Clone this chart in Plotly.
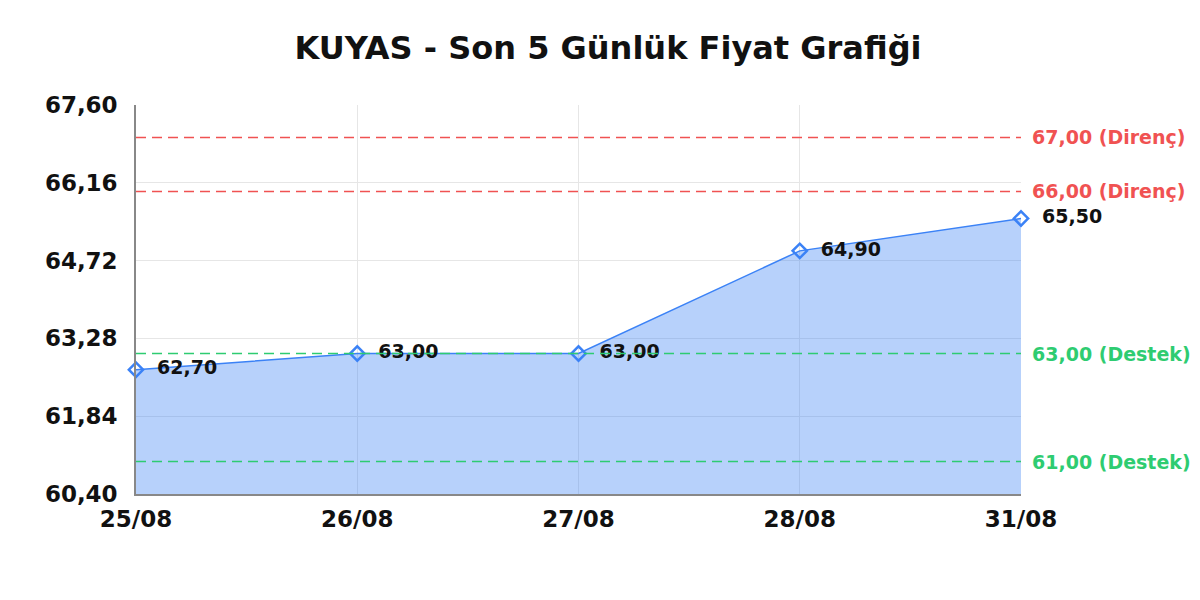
import plotly.graph_objects as go

# data
dates = ["25/08", "26/08", "27/08", "28/08", "31/08"]
prices = [62.70, 63.00, 63.00, 64.90, 65.50]
resistance = [67.00, 66.00]
support = [63.00, 61.00]
y_ticks = [60.40, 61.84, 63.28, 64.72, 66.16, 67.60]

FONT = "DejaVu Sans"
RED = "#f05252"
GREEN = "#2ecc71"
BLUE = "#3b82f6"

fig = go.Figure()

fig.add_trace(go.Scatter(
    x=dates, y=prices,
    mode="lines+markers+text",
    fill="tozeroy",
    fillcolor="rgba(66,133,244,0.38)",
    line=dict(color=BLUE, width=1.5),
    marker=dict(symbol="diamond-open", size=11, color=BLUE, line=dict(width=2.5, color=BLUE)),
    text=prices,
    texttemplate="  %{y:.2f}",
    textposition="middle right",
    textfont=dict(family=FONT, size=19, color="#111", weight="bold"),
    cliponaxis=False,
    showlegend=False,
))

shapes = []
annotations = []
for val, col, word in [(v, RED, "Direnç") for v in resistance] + [(v, GREEN, "Destek") for v in support]:
    shapes.append(dict(type="line", xref="paper", x0=0, x1=1, yref="y", y0=val, y1=val,
                       line=dict(color=col, width=1.5, dash="10px,6px"), layer="above"))
    annotations.append(dict(xref="paper", x=1, yref="y", y=val, xanchor="left", xshift=9,
                            text=f"{val:.2f}".replace(".", ",") + f" ({word})", showarrow=False,
                            font=dict(family=FONT, size=19, color=col, weight="bold")))

fig.update_layout(
    width=1200, height=600,
    separators=",.",
    paper_bgcolor="white", plot_bgcolor="white",
    margin=dict(l=128, r=187, t=97, b=114),
    title=dict(text="KUYAS - Son 5 Günlük Fiyat Grafiği", x=0.5, xanchor="center",
               y=1 - 40 / 600, yanchor="middle",
               font=dict(family=FONT, size=32, color="#111", weight="bold")),
    font=dict(family=FONT, color="#111"),
    shapes=shapes,
    annotations=annotations,
)

fig.update_xaxes(
    type="category", range=[0, len(dates) - 1],
    showgrid=True, gridcolor="#e6e6e6",
    showline=True, linecolor="#888", linewidth=1.5,
    tickfont=dict(family=FONT, size=23, color="#111", weight="bold"),
    ticks="", ticklabelstandoff=4,
)
fig.update_yaxes(
    range=[y_ticks[0], y_ticks[-1]],
    tickvals=y_ticks, tickformat=".2f",
    showgrid=True, gridcolor="#e6e6e6",
    showline=True, linecolor="#888", linewidth=1.5,
    zeroline=False,
    tickfont=dict(family=FONT, size=23, color="#111", weight="bold"),
    ticks="", ticklabelstandoff=12,
)

fig.write_html("out.html")
